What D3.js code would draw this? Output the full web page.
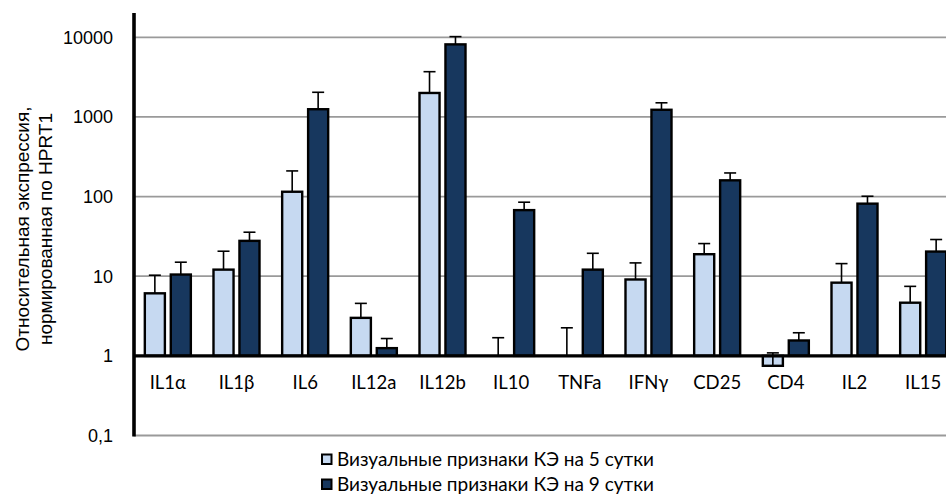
<!DOCTYPE html>
<html>
<head>
<meta charset="utf-8">
<script src="https://cdn.jsdelivr.net/npm/d3@7"></script>
<style>
  html, body { margin: 0; padding: 0; background: #fff; }
  svg { display: block; }
</style>
</head>
<body>
<svg id="chart" width="946" height="495"></svg>
<script>
// ---- data ----
const categories = ["IL1α", "IL1β", "IL6", "IL12a", "IL12b", "IL10", "TNFa", "IFNγ", "CD25", "CD4", "IL2", "IL15"];
const seriesNames = ["Визуальные признаки КЭ на 5 сутки", "Визуальные признаки КЭ на 9 сутки"];
const day5Values = [6.1, 12.1, 115, 3.0, 2000, 1, 1, 9.1, 18.9, 0.75, 8.3, 4.65];
const day5ErrTop = [10.3, 20.6, 210, 4.56, 3700, 1.69, 2.25, 14.7, 25.7, 1.09, 14.4, 7.46];
const day9Values = [10.5, 27.8, 1250, 1.25, 8150, 67.6, 12.1, 1230, 160, 1.56, 81.5, 20.4];
const day9ErrTop = [15, 35.7, 2040, 1.65, 10200, 85, 19.4, 1505, 198, 1.95, 101, 28.9];
const yTicks = [0.1, 1, 10, 100, 1000, 10000];
const yTickLabels = ["0,1", "1", "10", "100", "1000", "10000"];
const yTitle = ["Относительная экспрессия,", "нормированная по HPRT1"];

const colors = ["#C6D9F1", "#17375E"];

const svg = d3.select("#chart");

const plotLeft = 133.5, plotRight = 957.5;
const y = d3.scaleLog().domain([0.1, 10000]).range([435.5, 37.3]);
const x0 = d3.scaleBand().domain(categories).range([plotLeft, plotRight])
  .paddingInner(0.295).paddingOuter(0.1475);
const x1 = d3.scaleBand().domain([0, 1]).range([0, x0.bandwidth()]).paddingInner(0.135);

// gridlines
svg.append("g").selectAll("line").data(yTicks).join("line")
  .attr("x1", plotLeft).attr("x2", 946)
  .attr("y1", d => y(d)).attr("y2", d => y(d))
  .attr("stroke", "#9a9a9a").attr("stroke-width", 1.8);

// bars
const series = [
  { vals: day5Values, err: day5ErrTop },
  { vals: day9Values, err: day9ErrTop }
];
const bw = 2.4;
series.forEach((s, si) => {
  const g = svg.append("g");
  categories.forEach((c, i) => {
    const v = s.vals[i];
    const bx = x0(c) + x1(si);
    const w = x1.bandwidth();
    const yv = y(v), y1 = y(1);
    const top = Math.min(yv, y1), h = Math.abs(yv - y1);
    if (h > 0.5) {
      g.append("rect")
        .attr("x", bx + bw / 2).attr("y", top)
        .attr("width", w - bw).attr("height", h)
        .attr("fill", colors[si]).attr("stroke", "#000").attr("stroke-width", bw);
    }
  });
});

// error bars (plus direction)
series.forEach((s, si) => {
  const g = svg.append("g");
  categories.forEach((c, i) => {
    const cx = x0(c) + x1(si) + x1.bandwidth() / 2;
    const yb = y(s.vals[i]);
    const yt = y(s.err[i]);
    g.append("line").attr("x1", cx).attr("x2", cx).attr("y1", yb).attr("y2", yt)
      .attr("stroke", "#000").attr("stroke-width", 1.6);
    g.append("line").attr("x1", cx - 6).attr("x2", cx + 6).attr("y1", yt).attr("y2", yt)
      .attr("stroke", "#000").attr("stroke-width", 1.6);
  });
});

// horizontal axis at 1
svg.append("line").attr("x1", plotLeft).attr("x2", 946)
  .attr("y1", y(1)).attr("y2", y(1))
  .attr("stroke", "#000").attr("stroke-width", 3.4);

// vertical axis
svg.append("line").attr("x1", 134).attr("x2", 134)
  .attr("y1", 13).attr("y2", y(0.1) + 1)
  .attr("stroke", "#000").attr("stroke-width", 3.6);

// y tick labels
svg.append("g").selectAll("text").data(yTicks).join("text")
  .attr("x", 113).attr("y", d => y(d))
  .attr("dy", "0.35em")
  .attr("text-anchor", "end")
  .attr("font-family", "'Liberation Sans', Arial, sans-serif")
  .attr("font-size", 18)
  .attr("fill", "#000")
  .text((d, i) => yTickLabels[i]);

// category labels
svg.append("g").selectAll("text").data(categories).join("text")
  .attr("x", d => x0(d) + x0.bandwidth() / 2)
  .attr("y", 389)
  .attr("text-anchor", "middle")
  .attr("font-family", "Lato, 'Open Sans', sans-serif")
  .attr("font-size", 18.5)
  .attr("fill", "#000")
  .text(d => d);

// y title
const yt = svg.append("text")
  .attr("transform", "translate(29,229) rotate(-90)")
  .attr("text-anchor", "middle")
  .attr("font-family", "'Liberation Sans', Arial, sans-serif")
  .attr("font-size", 19)
  .attr("fill", "#000");
yt.append("tspan").attr("x", 0).attr("y", 0).text(yTitle[0]);
yt.append("tspan").attr("x", 0).attr("y", 23).text(yTitle[1]);

// legend
const legend = svg.append("g");
seriesNames.forEach((name, i) => {
  const ly = 466 + i * 25;
  legend.append("rect")
    .attr("x", 322).attr("y", ly - 11.5).attr("width", 9.5).attr("height", 9.5)
    .attr("fill", colors[i]).attr("stroke", "#000").attr("stroke-width", 2);
  legend.append("text")
    .attr("x", 337).attr("y", ly)
    .attr("font-family", "Lato, 'Open Sans', sans-serif")
    .attr("font-size", 19)
    .attr("fill", "#000")
    .text(name);
});
</script>
</body>
</html>
